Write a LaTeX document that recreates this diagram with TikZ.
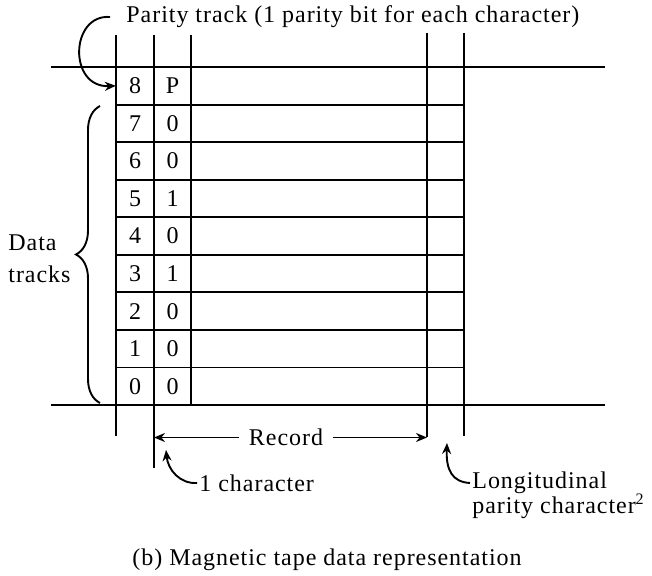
\documentclass[tikz,border=0pt]{standalone}
\usepackage{fontspec}
\setmainfont{Liberation Serif}[LetterSpace=4]
\usepackage{tikz}
\usetikzlibrary{arrows.meta, decorations.pathreplacing}
\tikzset{
    trk/.style={line width=0.95pt, draw=black},
    cell/.style={minimum width=18.75pt, minimum height=18.75pt, inner sep=0pt},
    lbl/.style={inner sep=1pt, font=\fontsize{12}{14.4}\selectfont},
    arr/.style={-{Stealth[length=5.5pt, width=4.5pt]}, line width=0.95pt, draw=black}
}
\begin{document}
\begin{tikzpicture}[x=0.5pt, y=-0.5pt, font=\fontsize{12}{14.4}\selectfont]
\useasboundingbox (0,0) rectangle (652,576);

% tape edges
\draw[trk] (51,67)  -- (605,67);
\draw[trk] (51,405) -- (605,405);

% character columns
\draw[trk] (116,35) -- (116,436);
\draw[trk] (154,35) -- (154,468);
\draw[trk] (191,35) -- (191,405);
\draw[trk] (427,33) -- (427,437);
\draw[trk] (464,33) -- (464,436);

% track lines
\foreach \i in {1,...,8}
    \draw[trk] (116,67+37.56*\i) -- (464,67+37.56*\i);

% track numbers and parity bits
\foreach \n/\p [count=\i from 0] in {8/P,7/0,6/0,5/1,4/0,3/1,2/0,1/0,0/0} {
    \node[cell] (d\n) at (135,85.8+37.56*\i)   {\n};
    \node[cell] (p\n) at (172.5,85.8+37.56*\i) {\p};
}

% labels
\node[lbl, inner xsep=8pt, anchor=west] (ptrack) at (110,17)
    {Parity track (1 parity bit for each character)};
\node[lbl, align=left, anchor=west] (dtr) at (6,259) {Data\\[1.6pt]tracks};
\node[lbl, inner xsep=5pt] (rec) at (286,437.5) {Record};
\node[lbl, anchor=west] (onechar) at (197,483) {1 character};
\node[lbl, align=left, anchor=west] (lpc) at (470,495)
    {Longitudinal\\[-2pt]parity character\textsuperscript{2}};
\node[lbl] (cap) at (327,560) {(b) Magnetic tape data representation};

\coordinate (recL)    at (154,437.5);
\coordinate (recR)    at (427,437.5);
\coordinate (chartip) at (166,450);
\coordinate (lpctip)  at (447,443);

% brace
\draw[trk, decorate, decoration={brace, amplitude=12pt}] (100,403) -- (100,106);

% arrows
\draw[arr] (ptrack.west) .. controls (70,14) and (68,88) .. (d8.west);
\draw[arr] (rec) -- (recL);
\draw[arr] (rec) -- (recR);
\draw[arr] (onechar.west) .. controls (180,484) and (168,470) .. (chartip);
\draw[arr] ([yshift=6pt]lpc.west) .. controls (452,482) and (446,470) .. (lpctip);
\end{tikzpicture}
\end{document}
